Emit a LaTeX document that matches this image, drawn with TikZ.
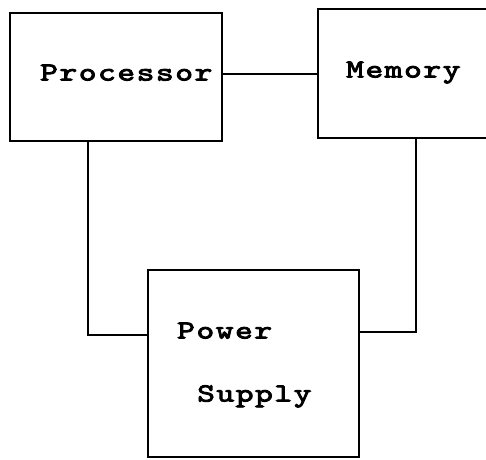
\documentclass[tikz,border=0pt]{standalone}
\usepackage{fontspec}
\newfontfamily\tfont{lmmono10-regular.otf}[LetterSpace=6, FakeStretch=1.3, FakeBold=3.5]
\begin{document}
\begin{tikzpicture}[x=1pt,y=-1pt,
  boxnode/.style={draw, line width=1.7pt, inner sep=0pt},
  wire/.style={line width=1.7pt},
  lbl/.style={inner sep=0pt, anchor=base west, font=\tfont\fontsize{26}{26}\selectfont}]
\useasboundingbox (0,0) rectangle (486,459);
\fill[white] (0,0) rectangle (486,459);
\node[boxnode, minimum width=260pt, minimum height=129pt] (mem) at (448,73.5) {};
\node[boxnode, minimum width=212pt, minimum height=128pt] (proc) at (116,77) {};
\node[boxnode, minimum width=211pt, minimum height=187pt] (psu) at (253.5,363.5) {};
\node[lbl] (ptxt) at (40,80.5) {Processor};
\node[lbl] (mtxt) at (346,77.5) {Memory};
\node[lbl] (pw) at (177,338.5) {Power};
\node[lbl] (sp) at (197,401.5) {Supply};
\coordinate (pm) at (0,74);
\coordinate (pl) at (88,335);
\coordinate (mr) at (416,332);
\draw[wire] (proc.east |- pm) -- (mem.west |- pm);
\draw[wire] (proc.south -| pl) -- (pl) -- (pl -| psu.west);
\draw[wire] (mem.south -| mr) -- (mr) -- (mr -| psu.east);
\end{tikzpicture}
\end{document}
